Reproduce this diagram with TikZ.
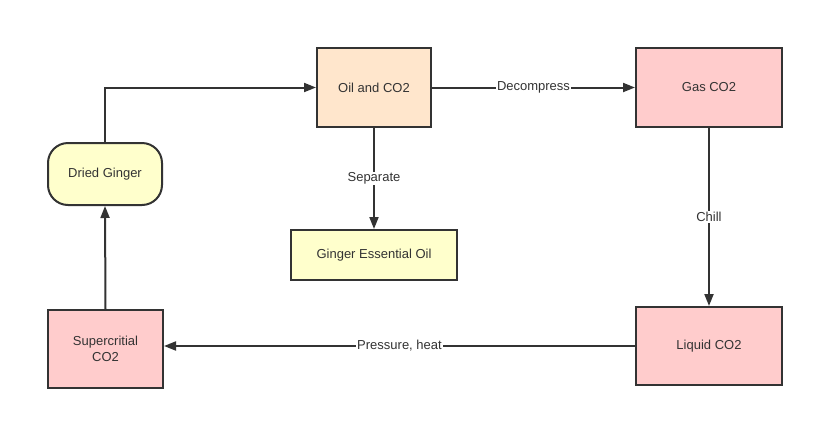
\documentclass[tikz,border=0pt]{standalone}
\usepackage{fontspec}
\setmainfont{Liberation Sans}
\usetikzlibrary{arrows.meta}
\definecolor{linec}{HTML}{333333}
\definecolor{yel}{HTML}{FFFFCC}
\definecolor{peach}{HTML}{FFE6CC}
\definecolor{pink}{HTML}{FFCCCC}
\begin{document}
\begin{tikzpicture}[x=1pt,y=-1pt,
  box/.style={draw=linec,line width=2pt,minimum width=#1,inner sep=0pt,align=center,text=linec,font=\fontsize{13}{16}\selectfont},
  conn/.style={draw=linec,line width=2pt,-{Triangle[length=12pt,width=9pt]}},
  lab/.style={fill=white,inner sep=1pt,text=linec,font=\fontsize{13}{15}\selectfont}]
\useasboundingbox (0,0) rectangle (815,421);
\node[box=114pt,minimum height=62pt,fill=yel,rounded corners=20pt] (dg) at (105,174) {Dried Ginger};
\node[box=114pt,minimum height=79pt,fill=peach] (oil) at (374,87.5) {Oil and CO2};
\node[box=146pt,minimum height=79pt,fill=pink] (gas) at (709,87.5) {Gas CO2};
\node[box=166pt,minimum height=50pt,fill=yel] (geo) at (374,255) {Ginger Essential Oil};
\node[box=115pt,minimum height=78pt,fill=pink] (sc) at (105.5,349) {Supercritial\\CO2};
\node[box=146pt,minimum height=78pt,fill=pink] (liq) at (709,346) {Liquid CO2};
\draw[conn] (dg.north) |- (oil.west);
\draw[conn] (oil.east) -- node[lab] {Decompress} (gas.west);
\draw[conn] (oil.south) -- node[lab,pos=0.5] {Separate} (geo.north);
\draw[conn] (gas.south) -- node[lab] {Chill} (liq.north);
\draw[conn] (liq.west) -- node[lab,pos=0.5] {Pressure, heat} (sc.east |- liq.west);
\draw[conn] (sc.north) -- (dg.south);
\end{tikzpicture}
\end{document}
